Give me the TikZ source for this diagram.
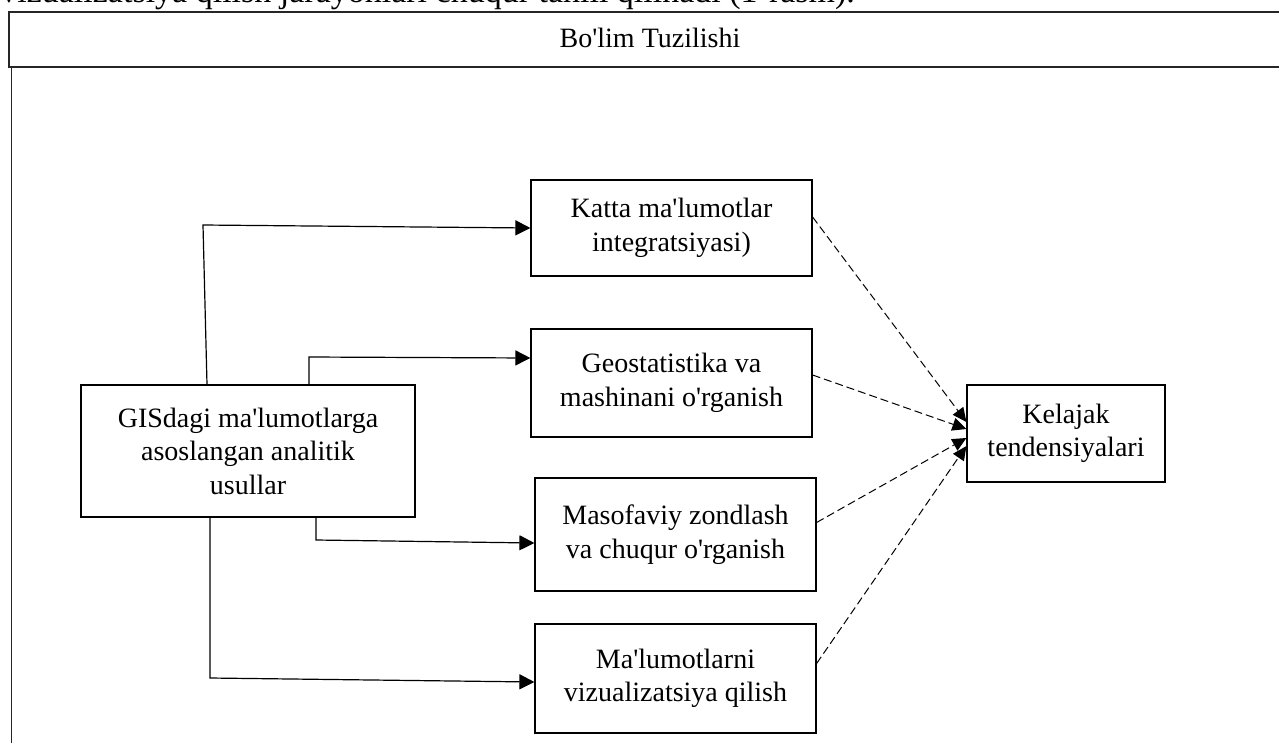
\documentclass[tikz,border=0pt]{standalone}
\usepackage{fontspec}
\setmainfont{Liberation Serif}[Ligatures=TeXOff]
\usetikzlibrary{arrows.meta,calc}
\begin{document}
\begin{tikzpicture}[x=1pt,y=-1pt,
  box/.style={draw=black,line width=1.2pt,rectangle,align=center,inner sep=0pt,
    font=\fontsize{28}{33.5}\selectfont},
  arr/.style={line width=1.2pt,-{Triangle[length=15pt,width=15pt]}},
  darr/.style={line width=1pt,dash pattern=on 8pt off 4pt,-{Triangle[length=14pt,width=13pt]}},
  frame/.style={line width=1.3pt,draw=black!85},
  txt/.style={font=\fontsize{28}{33.5}\selectfont,inner sep=0pt}]
\useasboundingbox (0,0) rectangle (1279,742);
\clip (0,0) rectangle (1279,742);
% cut-off text line above the frame
\node[txt,font=\fontsize{34}{40}\selectfont,anchor=base east] (top) at (855,2) {vizualizatsiya qilish jarayonlari chuqur tahlil qilinadi (1-rasm).};
% frame
\draw[frame] (1295,12) -- (9,12) -- (9,67) -- (1295,67);
\draw[frame] (11.5,67) -- (11.5,760);
\node[txt,anchor=base] (hdr) at (650,47) {Bo'lim Tuzilishi};
% nodes
\node[box,minimum width=334pt,minimum height=132pt] (g) at (248,451)
  {GISdagi ma'lumotlarga\\asoslangan analitik\\usullar};
\node[box,minimum width=281pt,minimum height=96pt] (k) at (671.5,228)
  {Katta ma'lumotlar\\integratsiyasi)};
\node[box,minimum width=281pt,minimum height=108pt] (ge) at (671.5,383)
  {Geostatistika va\\mashinani o'rganish};
\node[box,minimum width=281pt,minimum height=113pt] (ma) at (675.5,534.5)
  {Masofaviy zondlash\\va chuqur o'rganish};
\node[box,minimum width=281pt,minimum height=109pt] (ml) at (675.5,678.5)
  {Ma'lumotlarni\\vizualizatsiya qilish};
\node[box,minimum width=198pt,minimum height=97pt] (ke) at (1066,433.5)
  {Kelajak\\tendensiyalari};
% solid connectors
\draw[arr] (g.north -| 207,0) -- (203,225) -- (k.west);
\draw[arr] (g.north -| 309,0) -- (309,357) -- (ge.west |- 0,358);
\draw[arr] (g.south -| 316,0) -- (316,540) -- (ma.west |- 0,543);
\draw[arr] (g.south -| 210,0) -- (210,678) -- (ml.west |- 0,682);
% dashed connectors
\draw[darr] ([yshift=11pt]k.east) -- (ke.west |- 0,422);
\draw[darr] ([yshift=8pt]ge.east) -- (ke.west |- 0,429);
\draw[darr] ([yshift=12pt]ma.east) -- (ke.west |- 0,438);
\draw[darr] ([yshift=15pt]ml.east) -- (ke.west |- 0,446);
\end{tikzpicture}
\end{document}
